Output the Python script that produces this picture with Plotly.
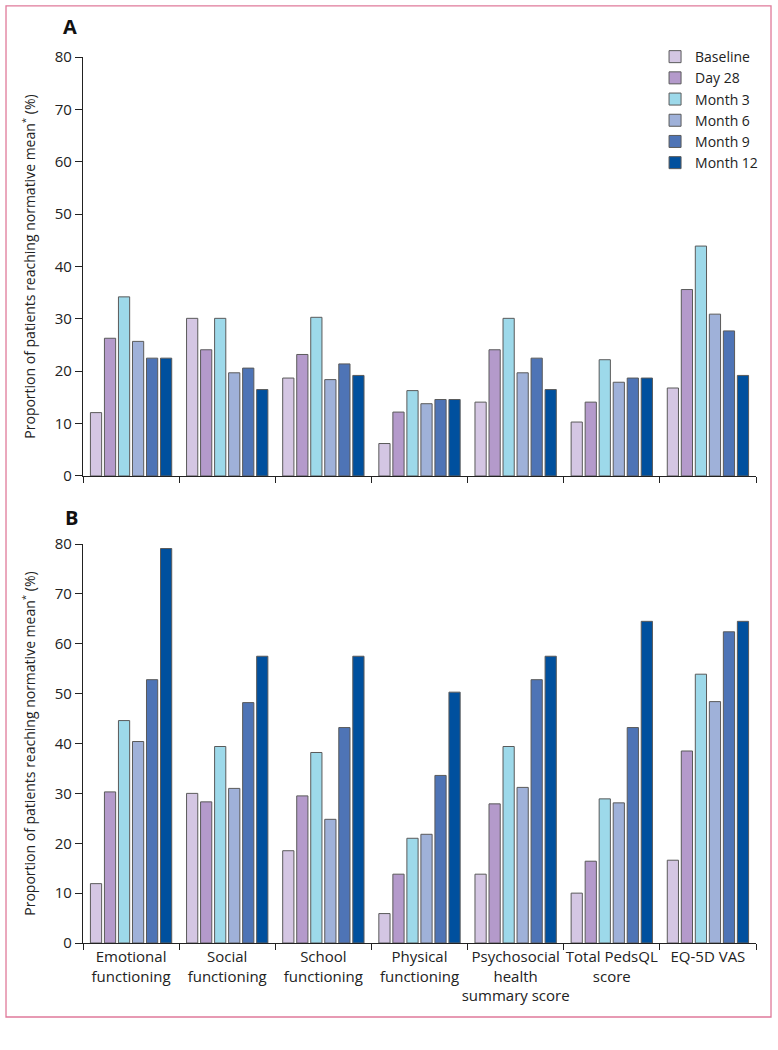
import plotly.graph_objects as go
from plotly.subplots import make_subplots

categories = ["Emotional<br>functioning", "Social<br>functioning", "School<br>functioning",
              "Physical<br>functioning", "Psychosocial<br>health<br>summary score",
              "Total PedsQL<br>score", "EQ-5D VAS"]
series_names = ["Baseline", "Day 28", "Month 3", "Month 6", "Month 9", "Month 12"]
colors = ["#d4c6e3", "#b49acb", "#9dd9ea", "#9fb1d9", "#4e74b6", "#00509e"]

# Panel A values (%), by series, across categories
a_baseline = [12.1, 30.1, 18.7, 6.2, 14.1, 10.3, 16.8]
a_day28 = [26.3, 24.1, 23.2, 12.2, 24.1, 14.1, 35.6]
a_month3 = [34.2, 30.1, 30.3, 16.3, 30.1, 22.2, 43.9]
a_month6 = [25.7, 19.7, 18.4, 13.8, 19.7, 17.9, 30.9]
a_month9 = [22.5, 20.6, 21.4, 14.6, 22.5, 18.7, 27.7]
a_month12 = [22.5, 16.5, 19.2, 14.6, 16.5, 18.7, 19.2]

# Panel B values (%)
b_baseline = [11.9, 30.0, 18.5, 5.9, 13.8, 10.0, 16.6]
b_day28 = [30.3, 28.3, 29.5, 13.8, 27.9, 16.4, 38.5]
b_month3 = [44.6, 39.4, 38.2, 21.0, 39.4, 28.9, 53.9]
b_month6 = [40.4, 31.0, 24.8, 21.8, 31.2, 28.1, 48.4]
b_month9 = [52.8, 48.2, 43.2, 33.6, 52.8, 43.2, 62.4]
b_month12 = [79.1, 57.5, 57.5, 50.3, 57.5, 64.5, 64.5]

panel_a = [a_baseline, a_day28, a_month3, a_month6, a_month9, a_month12]
panel_b = [b_baseline, b_day28, b_month3, b_month6, b_month9, b_month12]
y_ticks = [0, 10, 20, 30, 40, 50, 60, 70, 80]

FONT = "Open Sans"
TXT = "#222222"

fig = make_subplots(rows=2, cols=1, shared_xaxes=False)

for i, name in enumerate(series_names):
    fig.add_trace(go.Bar(x=categories, y=panel_a[i], name=name,
                         marker=dict(color=colors[i], line=dict(color="#5a5a5a", width=1)),
                         legendgroup=name, showlegend=True), row=1, col=1)
    fig.add_trace(go.Bar(x=categories, y=panel_b[i], name=name,
                         marker=dict(color=colors[i], line=dict(color="#5a5a5a", width=1)),
                         legendgroup=name, showlegend=False), row=2, col=1)

axis_common = dict(showline=True, linecolor=TXT, linewidth=1.3, showgrid=False,
                   zeroline=False, tickfont=dict(family=FONT, size=15, color=TXT),
                   automargin=False)

fig.update_xaxes(**axis_common, ticks="outside", tickson="boundaries", ticklen=6,
                 tickcolor=TXT, tickwidth=1.3, tickangle=0)
fig.update_xaxes(showticklabels=False, row=1, col=1)

ytitle = "Proportion of patients reaching normative mean<sup>*</sup> (%)"
fig.update_yaxes(**axis_common, range=[0, 80], tickvals=y_ticks, ticks="outside",
                 ticklen=7, tickcolor=TXT, tickwidth=1.3,
                 title=dict(text=ytitle, font=dict(family=FONT, size=14, color=TXT),
                            standoff=15))

fig.update_layout(
    width=778, height=1050,
    margin=dict(l=83, r=22, t=57, b=107),
    paper_bgcolor="white", plot_bgcolor="white",
    barmode="group", bargap=0.125, bargroupgap=0.2,
    font=dict(family=FONT, size=15, color=TXT),
    yaxis=dict(domain=[0.5271, 1.0]),
    yaxis2=dict(domain=[0.0, 0.4503]),
    legend=dict(x=0.850, y=1.018, xanchor="left", yanchor="top",
                font=dict(family=FONT, size=14, color=TXT),
                itemwidth=30, tracegroupgap=0, bgcolor="rgba(0,0,0,0)"),
    annotations=[
        dict(text="<b>A</b>", x=-0.0193, y=1.034, xref="paper", yref="paper",
             showarrow=False, font=dict(family=FONT, size=20, color="#111111"),
             xanchor="center", yanchor="middle"),
        dict(text="<b>B</b>", x=-0.0178, y=0.4797, xref="paper", yref="paper",
             showarrow=False, font=dict(family=FONT, size=20, color="#111111"),
             xanchor="center", yanchor="middle"),
    ],
    shapes=[dict(type="rect", xref="paper", yref="paper",
                 x0=-0.1144, x1=1.0223, y0=-0.0835, y1=1.0576,
                 line=dict(color="#e07a9a", width=1.3), fillcolor="rgba(0,0,0,0)")],
)

fig.write_html("out.html", config={"displayModeBar": False},
               post_script="document.body.style.margin='0px';")
